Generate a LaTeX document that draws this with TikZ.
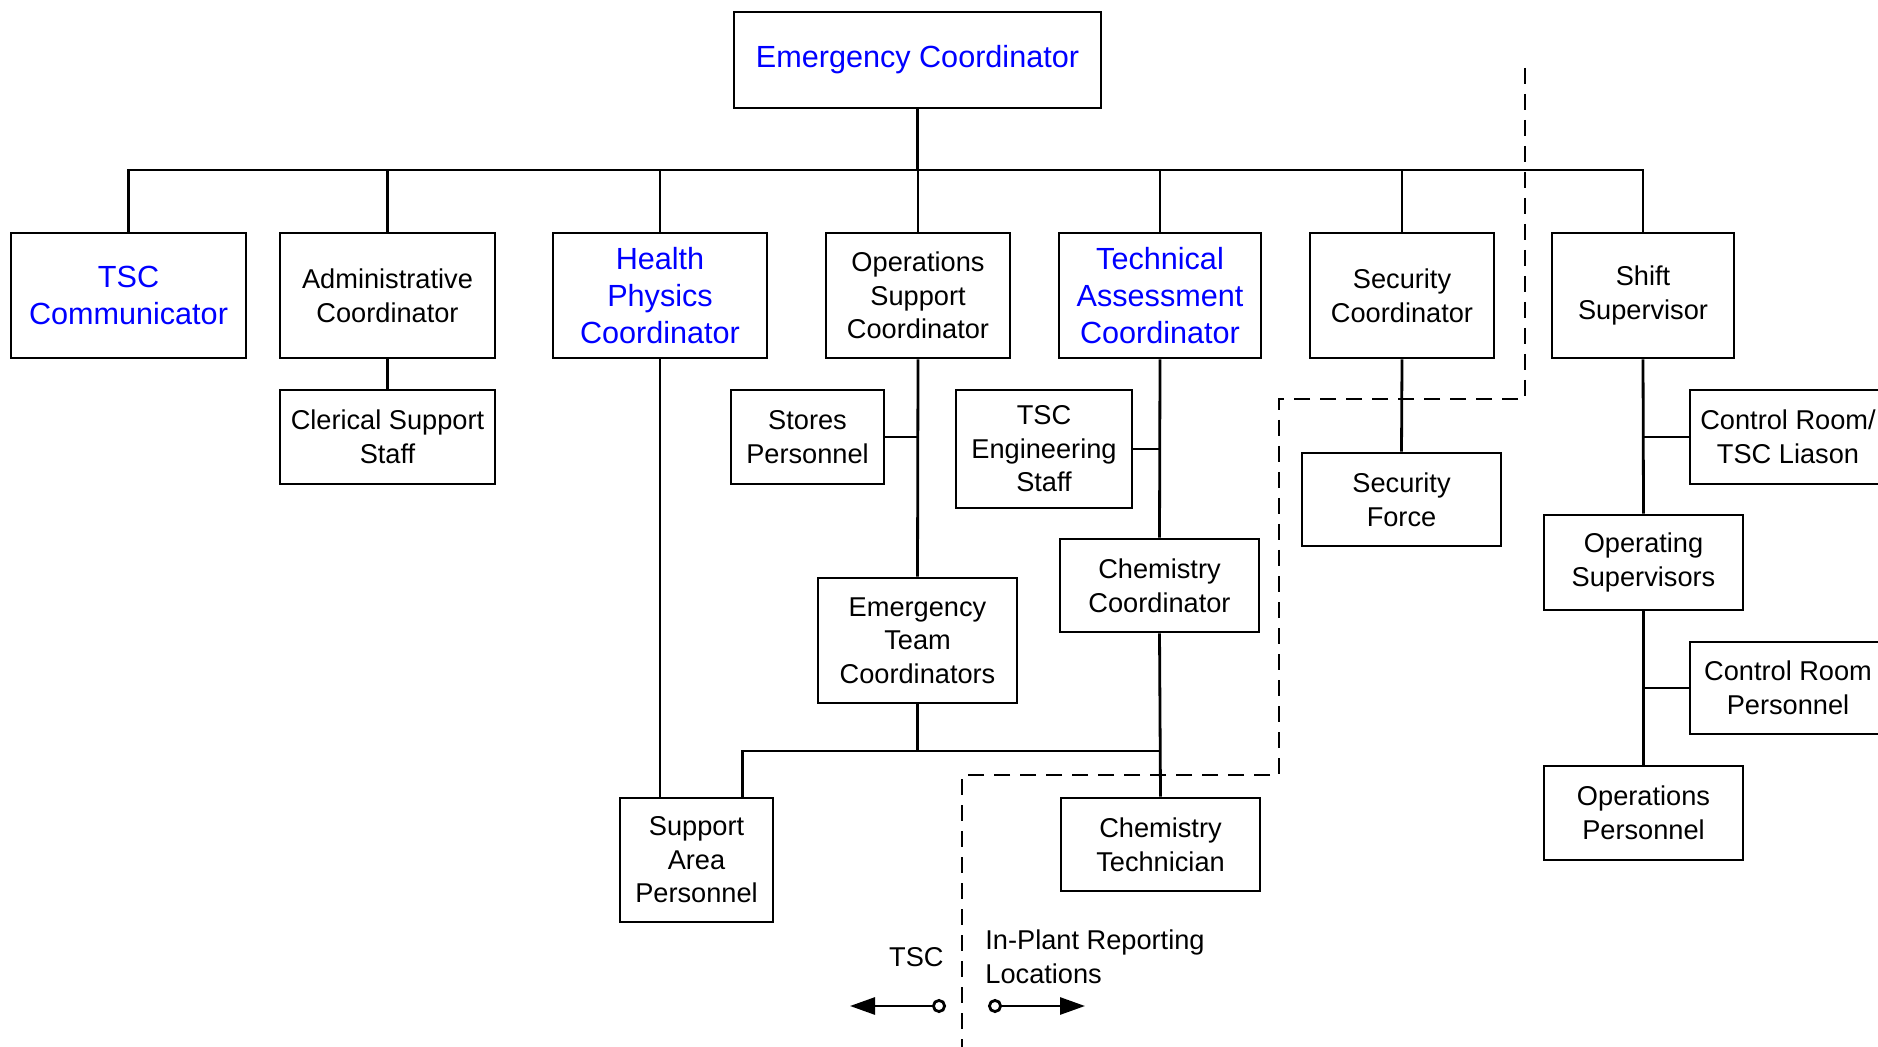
\documentclass[tikz,border=0pt]{standalone}
\usepackage{fontspec}
\setmainfont{Liberation Sans}
\usepackage{tikz}
\usetikzlibrary{arrows.meta, calc}

\begin{document}
\begin{tikzpicture}[x=0.5pt,y=-0.5pt,line width=1.4pt,
    box/.style={draw,line width=1.4pt,align=center,inner sep=0pt,
        font=\fontsize{13.6}{16.8}\selectfont},
    key/.style={box,text=blue,font=\fontsize{15.3}{18.6}\selectfont},
    wh/.style 2 args={minimum width=#1*0.5pt,minimum height=#2*0.5pt},
    tag/.style={inner sep=0pt,font=\fontsize{13.6}{16.8}\selectfont},
    hd/.tip={Triangle[length=12.5pt,width=8.5pt]},
    rg/.tip={Circle[open,length=7pt]}]
    \useasboundingbox (0,0) rectangle (1878,1047);

    \node[key,wh={367}{96}] (EC) at (917.5,60) {Emergency Coordinator};

    \node[key,wh={235}{125}] (TC) at (128.5,295.5) {TSC\\Communicator};
    \node[box,wh={215}{125}] (AC) at (387.5,295.5) {Administrative\\Coordinator};
    \node[key,wh={214}{125}] (HP) at (660,295.5) {Health\\Physics\\Coordinator};
    \node[box,wh={184}{125}] (OS) at (918,295.5) {Operations\\Support\\Coordinator};
    \node[key,wh={202}{125}] (TA) at (1160,295.5) {Technical\\Assessment\\Coordinator};
    \node[box,wh={184}{125}] (SC) at (1402,295.5) {Security\\Coordinator};
    \node[box,wh={182}{125}] (SS) at (1643,295.5) {Shift\\Supervisor};

    \node[box,wh={215}{94}] (CS) at (387.5,437) {Clerical Support\\Staff};
    \node[box,wh={153}{94}] (SP) at (807.5,437) {Stores\\Personnel};
    \node[box,wh={176}{118}] (TE) at (1044,449) {TSC\\Engineering\\Staff};
    \node[box,wh={196}{94}] (CL) at (1788,437) {Control Room/\\TSC Liason};
    \node[box,wh={199}{93}] (SF) at (1401.5,499.5) {Security\\Force};
    \node[box,wh={199}{95}] (OP) at (1643.5,562.5) {Operating\\Supervisors};
    \node[box,wh={199}{93}] (CC) at (1159.5,585.5) {Chemistry\\Coordinator};
    \node[box,wh={199}{125}] (ET) at (917.5,640.5) {Emergency\\Team\\Coordinators};
    \node[box,wh={196}{92}] (CR) at (1788,688) {Control Room\\Personnel};
    \node[box,wh={199}{94}] (OPS) at (1643.5,813) {Operations\\Personnel};
    \node[box,wh={153}{124}] (SA) at (696.5,860) {Support\\Area\\Personnel};
    \node[box,wh={199}{93}] (CT) at (1160.5,844.5) {Chemistry\\Technician};

    % top level bus
    \coordinate (bus) at (917.5,170);
    \draw (EC.south) -- (bus);
    \draw (TC.north) |- (bus) -| (SS.north);
    \foreach \n in {AC,HP,OS,TA,SC}
        \draw (\n.north) -- (\n.north |- bus);

    % branches
    \draw (AC.south) -- (CS.north);
    \draw (HP.south) -- (HP.south |- SA.north);
    \draw (OS.south) -- (ET.north);
    \draw (SP.east) -- (SP.east -| OS.south);
    \draw (TA.south) -- (CC.north);
    \draw (TE.east) -- (TE.east -| TA.south);
    \draw (CC.south) -- (CT.north);
    \coordinate (jn) at (917.5,751);
    \draw (ET.south) -- (jn);
    \draw ([xshift=23pt]SA.north) |- (jn) -- (jn -| CC.south);
    \draw (SC.south) -- (SF.north);
    \draw (SS.south) -- (OP.north);
    \draw (OP.south) -- (OPS.north);
    \draw (CL.west) -- (CL.west -| SS.south);
    \draw (CR.west) -- (CR.west -| OP.south);

    % boundary TSC / in-plant
    \draw[line width=1.3pt,dash pattern=on 8pt off 5pt]
        (1525,68) |- (1279,399) |- (962,775) -- (962,1050);

    % legend
    \node[tag,anchor=east] (TL) at (945,957) {TSC};
    \node[tag,anchor=west,align=left] (IL) at (984,957) {In-Plant Reporting\\Locations};
    \coordinate (la) at (850,1006);
    \coordinate (lb) at (946,1006);
    \coordinate (ra) at (988,1006);
    \coordinate (rb) at (1085,1006);
    \draw[hd-rg] (la) -- (lb);
    \draw[rg-hd] (ra) -- (rb);
\end{tikzpicture}
\end{document}
